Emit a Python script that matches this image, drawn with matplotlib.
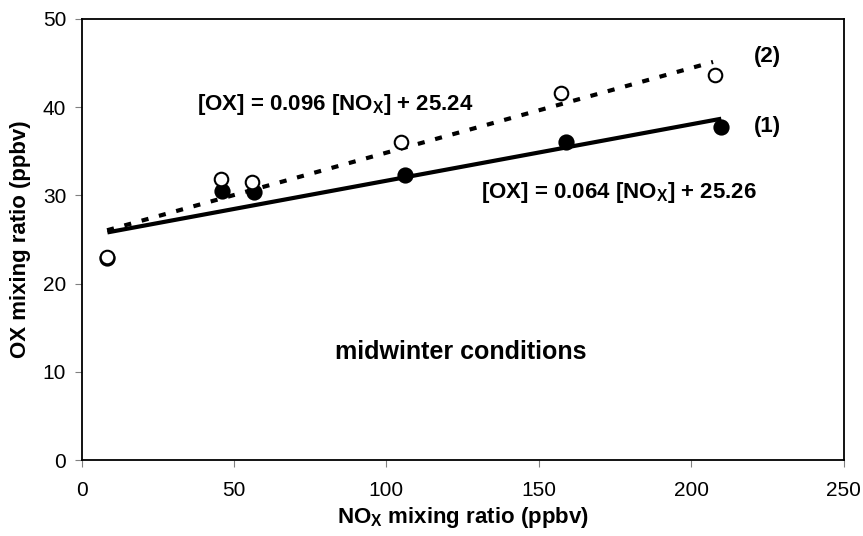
import matplotlib
matplotlib.use("Agg")
import matplotlib.pyplot as plt
import numpy as np

plt.rcParams['font.family'] = ['Liberation Sans', 'DejaVu Sans']
plt.rcParams['mathtext.fontset'] = 'custom'
plt.rcParams['mathtext.rm'] = 'Liberation Sans'
plt.rcParams['mathtext.bf'] = 'Liberation Sans:bold'

# Data
nox_filled = [8.5, 46.0, 56.5, 106.0, 159.0, 209.9]
ox_filled = [22.9, 30.5, 30.4, 32.3, 36.1, 37.7]
nox_open = [8.4, 45.8, 56.1, 104.8, 157.3, 207.7]
ox_open = [23.0, 31.9, 31.5, 36.0, 41.6, 43.6]

fit1_slope, fit1_intercept = 0.064, 25.26
fit2_slope, fit2_intercept = 0.096, 25.24

x_ticks = [0, 50, 100, 150, 200, 250]
y_ticks = [0, 10, 20, 30, 40, 50]

fig = plt.figure(figsize=(8.63, 5.36), dpi=100)
ax = fig.add_axes([81.5/863, 76/536, (843.5-81.5)/863, (460-19)/536])

# regression lines
x1 = np.array([min(nox_filled), max(nox_filled)])
ax.plot(x1, fit1_slope * x1 + fit1_intercept, color='black', lw=3, solid_capstyle='butt', zorder=2)
x2 = np.array([min(nox_open), max(nox_open) - 0.5])
ax.plot(x2, fit2_slope * x2 + fit2_intercept, color='black', lw=3, linestyle=(0, (1.7, 2.6)), dash_capstyle='butt', zorder=2)

ax.scatter(nox_filled, ox_filled, s=110, facecolor='black', edgecolor='black', linewidth=1.2, zorder=3)
ax.scatter(nox_open, ox_open, s=95, facecolor='white', edgecolor='black', linewidth=1.5, zorder=4)

ax.set_xlim(0, 250)
ax.set_ylim(0, 50)
ax.set_xticks(x_ticks)
ax.set_yticks(y_ticks)
ax.tick_params(axis='both', direction='out', length=5, color='#808080', labelsize=15)
ax.tick_params(axis='x', pad=10)
ax.tick_params(axis='y', pad=6)
for s in ax.spines.values():
    s.set_linewidth(1.3)
    s.set_color('black')

ax.set_xlabel(r'NO$_\mathregular{X}$ mixing ratio (ppbv)', fontsize=16, fontweight='bold')
ax.set_ylabel('OX mixing ratio (ppbv)', fontsize=16, fontweight='bold')
ax.yaxis.set_label_coords(-0.080, 0.5)
ax.xaxis.set_label_coords(0.5, -0.13)
ax.yaxis.label.set_va('center')
ax.xaxis.label.set_va('center')

ax.text(38, 40.3, r'[OX] = 0.096 [NO$_\mathregular{X}$] + 25.24', fontsize=16, fontweight='bold', va='center', ha='left')
ax.text(131, 30.3, r'[OX] = 0.064 [NO$_\mathregular{X}$] + 25.26', fontsize=16, fontweight='bold', va='center', ha='left')
ax.text(225, 45.7, '(2)', fontsize=16, fontweight='bold', va='center', ha='center')
ax.text(225, 37.8, '(1)', fontsize=16, fontweight='bold', va='center', ha='center')
ax.text(124.5, 12.2, 'midwinter conditions', fontsize=18, fontweight='bold', va='center', ha='center')

fig.savefig('out.png', dpi=100)
